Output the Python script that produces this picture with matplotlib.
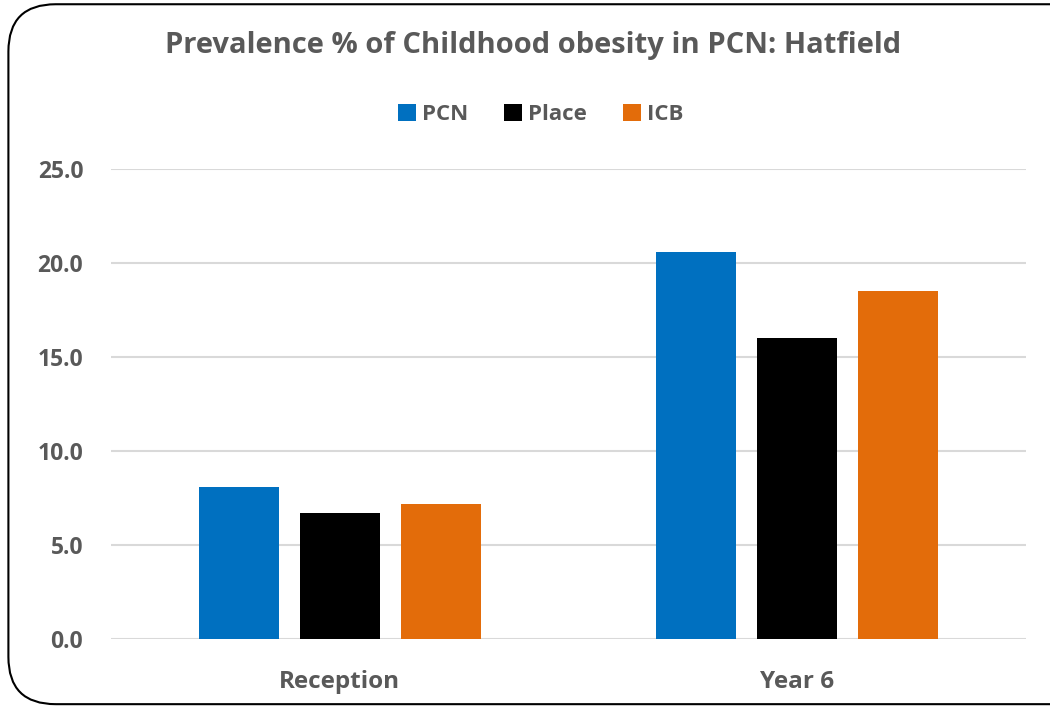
import matplotlib
matplotlib.use("Agg")
import matplotlib.pyplot as plt
from matplotlib.patches import FancyBboxPatch
import numpy as np

categories = ["Reception", "Year 6"]
series_names = ["PCN", "Place", "ICB"]
pcn = [8.1, 20.6]
place = [6.7, 16.0]
icb = [7.2, 18.5]
colors = ["#0070C0", "#000000", "#E36C0A"]
yticks = [0.0, 5.0, 10.0, 15.0, 20.0, 25.0]

plt.rcParams['font.family'] = ['Open Sans', 'DejaVu Sans']
grey = "#595959"

fig = plt.figure(figsize=(10.5, 7.07), dpi=100)
ax = fig.add_axes([0.1057, 0.0962, 0.8714, 0.665])

x = np.arange(len(categories))
w = 0.175
step = 0.221
for i, (vals, name) in enumerate(zip([pcn, place, icb], series_names)):
    ax.bar(x + (i - 1) * step, vals, width=w, color=colors[i], label=name, zorder=3)

ax.set_xlim(-0.5, 1.5)
ax.set_ylim(0, 25)
ax.set_yticks(yticks)
ax.set_yticklabels([f"{v:.1f}" for v in yticks])
ax.set_xticks(x)
ax.set_xticklabels(categories)
ax.grid(axis='y', color='#D9D9D9', linewidth=1.5, zorder=0)
for s in ax.spines.values():
    s.set_visible(False)
ax.tick_params(axis='y', length=0, labelsize=16.5, labelcolor=grey, pad=20)
ax.tick_params(axis='x', length=0, labelsize=17.5, labelcolor=grey, pad=22)
for lab in ax.get_xticklabels() + ax.get_yticklabels():
    lab.set_fontweight('bold')

fig.text(0.508, 0.935, "Prevalence % of Childhood obesity in PCN: Hatfield",
         ha='center', va='center', fontsize=21, fontweight='bold', color=grey)

leg = fig.legend(loc='center', bbox_to_anchor=(0.515, 0.838), ncol=3, frameon=False,
                 handlelength=0.8, handleheight=0.8, handletextpad=0.3, columnspacing=1.6,
                 prop={'size': 16, 'weight': 'bold'})
for t in leg.get_texts():
    t.set_color(grey)

border = FancyBboxPatch((0.008, 0.004), 1.1, 0.99, boxstyle="round,pad=0,rounding_size=0.045",
                        transform=fig.transFigure, fill=False, edgecolor='black', linewidth=1.5,
                        mutation_aspect=1.485)
fig.patches.append(border)

fig.savefig("out.png", dpi=100)
